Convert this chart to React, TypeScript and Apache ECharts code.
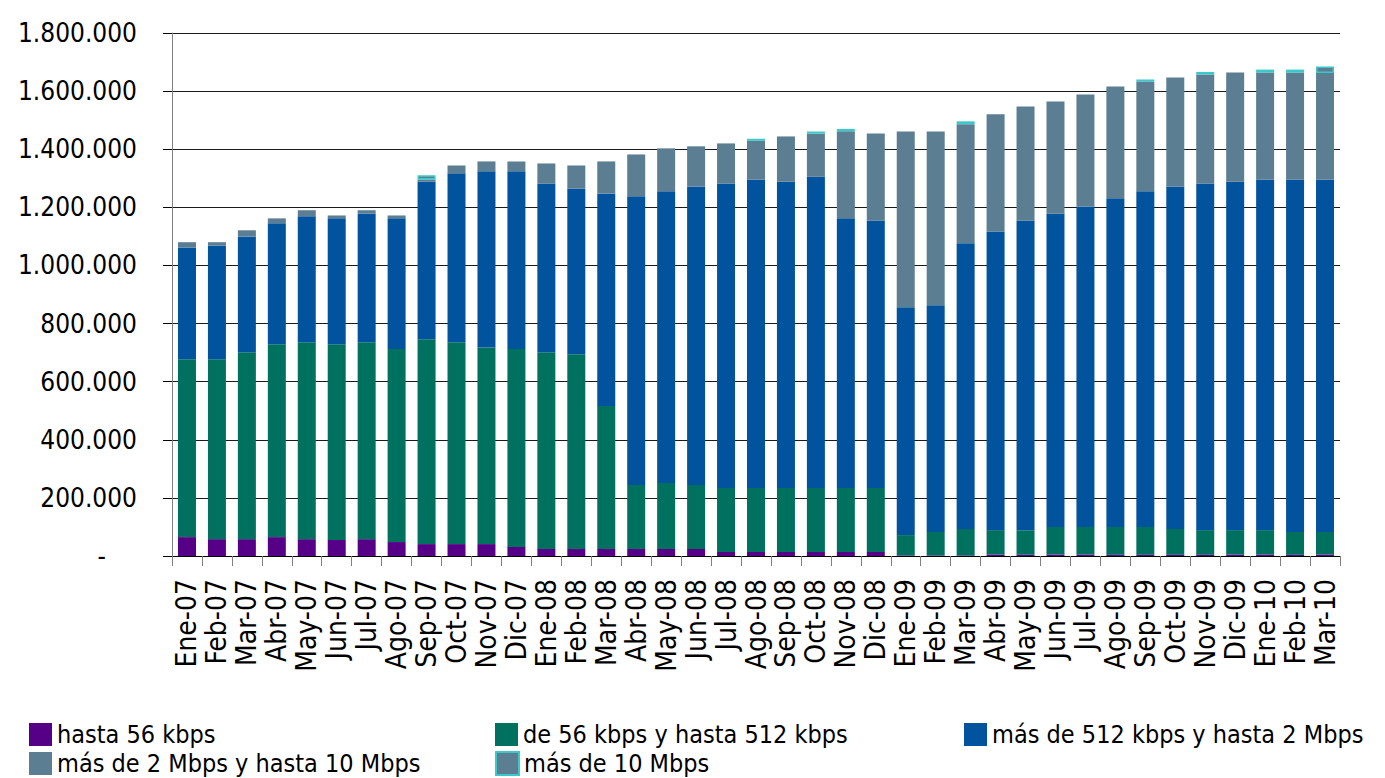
import React, { useEffect, useRef } from "react";
import * as echarts from "echarts";

const categories = [
  "Ene-07","Feb-07","Mar-07","Abr-07","May-07","Jun-07","Jul-07","Ago-07","Sep-07","Oct-07","Nov-07","Dic-07",
  "Ene-08","Feb-08","Mar-08","Abr-08","May-08","Jun-08","Jul-08","Ago-08","Sep-08","Oct-08","Nov-08","Dic-08",
  "Ene-09","Feb-09","Mar-09","Abr-09","May-09","Jun-09","Jul-09","Ago-09","Sep-09","Oct-09","Nov-09","Dic-09",
  "Ene-10","Feb-10","Mar-10",
];

// values in thousands of connections
const hasta56 = [65,58,58,65,58,55,58,48,41,41,41,31,24,24,24,24,24,24,14,14,14,14,14,14,2,2,2,5,4,5,5,4,4,4,4,5,5,4,5];
const de56a512 = [612,619,643,664,678,674,678,664,705,695,677,681,677,670,492,220,227,220,220,220,220,220,220,220,70,81,91,84,85,95,95,96,96,89,85,84,84,79,78];
const de512a2M = [385,392,399,416,433,433,443,450,543,581,606,612,581,571,732,994,1004,1028,1048,1062,1055,1072,928,921,784,780,983,1028,1066,1079,1103,1131,1155,1179,1193,1200,1207,1213,1213];
const de2a10M = [18,11,21,17,21,10,11,10,7,27,34,34,69,79,110,144,148,138,138,133,155,148,300,299,605,598,410,403,392,385,385,385,378,375,375,375,368,368,366];
const mas10M = [0,0,0,0,0,0,0,0,14,0,0,0,0,0,0,0,0,0,0,7,0,7,8,0,0,0,10,0,0,0,0,0,7,0,9,0,10,10,23];

const seriesNames = [
  "hasta 56 kbps",
  "de 56 kbps y hasta 512 kbps",
  "más de 512 kbps y hasta 2 Mbps",
  "más de 2 Mbps y hasta 10 Mbps",
  "más de 10 Mbps",
];

const FONT = '"DejaVu Sans Condensed", "DejaVu Sans", sans-serif';

export default function App() {
  const ref = useRef<HTMLDivElement>(null);
  useEffect(() => {
    if (!ref.current) return;
    const chart = echarts.init(ref.current, null, { renderer: "svg" });
    const k = (a: number[]) => a.map((v) => (v === 0 ? null : v * 1000));
    const seriesData = [hasta56, de56a512, de512a2M, de2a10M, mas10M];
    const colors = ["#560088", "#00705F", "#02539E", "#5C7E92", "#5C7E92"];
    const legendPos = [
      { left: 29, top: 722 },
      { left: 495, top: 722 },
      { left: 964, top: 722 },
      { left: 29, top: 751 },
      { left: 495, top: 751 },
    ];
    const fmt = (v: number) => {
      if (v === 0) return "{d|-}";
      return String(v).replace(/\B(?=(\d{3})+(?!\d))/g, ".");
    };
    chart.setOption({
      animation: false,
      textStyle: { fontFamily: FONT },
      grid: { left: 172, right: 45, top: 33, bottom: 222, containLabel: false },
      legend: legendPos.map((p, i) => ({
        ...p,
        data: [seriesNames[i]],
        icon: "rect",
        itemWidth: 23,
        itemHeight: 23,
        itemGap: 0,
        padding: 0,
        selectedMode: false,
        textStyle: { fontFamily: FONT, fontSize: 25, lineHeight: 23, color: "#000" },
      })),
      xAxis: {
        type: "category",
        data: categories,
        boundaryGap: true,
        axisLine: { show: true, lineStyle: { color: "#000", width: 1 } },
        axisTick: { show: true, length: 10, lineStyle: { color: "#808080", width: 1 } },
        axisLabel: {
          rotate: 90,
          interval: 0,
          margin: 23,
          fontFamily: FONT,
          fontSize: 28,
          color: "#000",
        },
      },
      yAxis: {
        type: "value",
        min: 0,
        max: 1800000,
        interval: 200000,
        axisLine: { show: true, lineStyle: { color: "#808080", width: 1 } },
        axisTick: { show: true, length: 9, lineStyle: { color: "#000", width: 1 } },
        splitLine: { show: true, lineStyle: { color: "#1a1a1a", width: 1 } },
        axisLabel: {
          margin: 35,
          fontFamily: FONT,
          fontSize: 26,
          color: "#000",
          formatter: fmt,
          rich: { d: { fontFamily: FONT, fontSize: 26, color: "#000", padding: [0, 31, 0, 0] } },
        },
      },
      series: seriesData.map((d, i) => ({
        name: seriesNames[i],
        type: "bar",
        stack: "total",
        barWidth: 18,
        data: k(d),
        itemStyle:
          i === 4
            ? { color: colors[i], borderColor: "#3CC8C8", borderWidth: 1.5 }
            : { color: colors[i] },
      })),
    });
    return () => chart.dispose();
  }, []);
  return <div ref={ref} style={{ width: 1385, height: 778, position: "absolute", left: 0, top: 0 }} />;
}
